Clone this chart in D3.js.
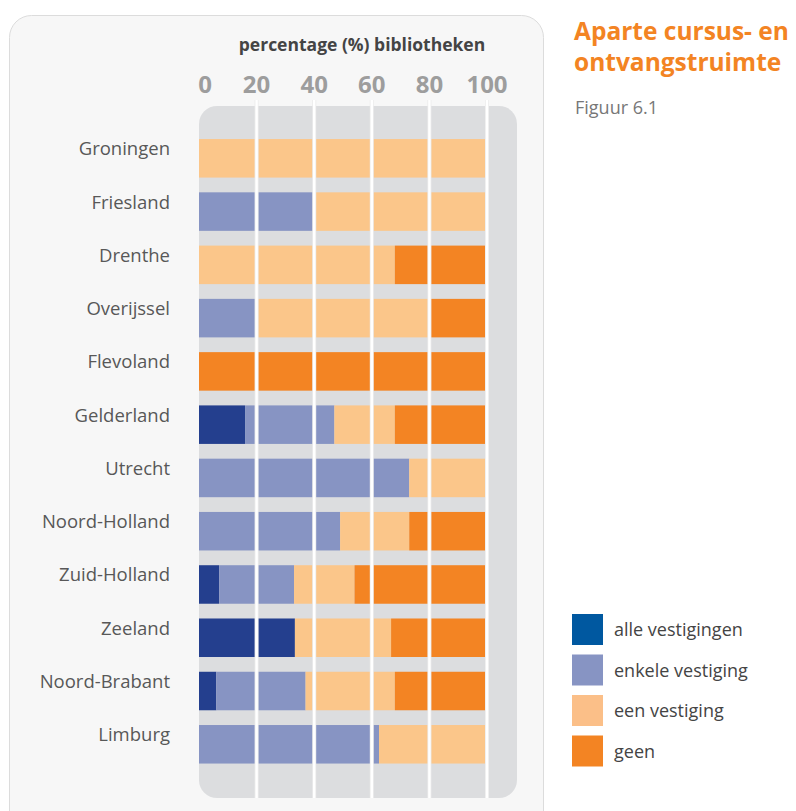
<!DOCTYPE html>
<html>
<head>
<meta charset="utf-8">
<script src="https://cdn.jsdelivr.net/npm/d3@7"></script>
<style>
  body { margin: 0; background: #fff; }
  svg { display: block; }
</style>
</head>
<body>
<div class="chart"></div>
<script>
var provinces = ["Groningen", "Friesland", "Drenthe", "Overijssel", "Flevoland", "Gelderland",
    "Utrecht", "Noord-Holland", "Zuid-Holland", "Zeeland", "Noord-Brabant", "Limburg"];
var series = ["alle vestigingen", "enkele vestiging", "een vestiging", "geen"];
var alleVestigingen = [0, 0, 0, 0, 0, 16, 0, 0, 7, 33.3, 6, 0];
var enkeleVestiging = [0, 40, 0, 20, 0, 31, 73, 49, 26, 0, 31, 62.5];
var eenVestiging = [100, 60, 68, 60, 0, 21, 27, 24, 21, 33.4, 31, 37.5];
var geen = [0, 0, 32, 20, 100, 32, 0, 27, 46, 33.3, 32, 0];
var ticks = [0, 20, 40, 60, 80, 100];

var barColors = ["#243f8e", "#8794c3", "#fbc68a", "#f38423"];
var legendColors = ["#0058a0", "#8794c3", "#fbbf88", "#f38423"];

function buildRows() {
    var rows = [];
    for (var i = 0; i < provinces.length; i++) {
        rows.push({
            name: provinces[i],
            "alle vestigingen": alleVestigingen[i],
            "enkele vestiging": enkeleVestiging[i],
            "een vestiging": eenVestiging[i],
            "geen": geen[i]
        });
    }
    return rows;
}

function draw(width, height) {
    var svg = d3.select(".chart").append("svg")
        .attr("width", width)
        .attr("height", height);

    var font = "'Open Sans', sans-serif";

    // card behind the chart
    svg.append("rect")
        .attr("x", 9.5).attr("y", 15.5)
        .attr("width", 534).attr("height", 830)
        .attr("rx", 22)
        .attr("fill", "#f7f7f7")
        .attr("stroke", "#dcdcdc");

    var x = d3.scaleLinear().domain([0, 100]).range([199, 487]);
    var y = d3.scaleBand().domain(provinces).range([128.4, 774.2]).paddingInner(0.277).paddingOuter(0.2);

    // grey panel
    svg.append("rect")
        .attr("x", 199).attr("y", 106)
        .attr("width", 318).attr("height", 692)
        .attr("rx", 18)
        .attr("fill", "#dcdddf");

    var stack = d3.stack().keys(series)(buildRows());

    svg.append("g")
        .selectAll("g")
        .data(stack)
        .enter()
        .append("g")
        .attr("fill", function(d, i){ return barColors[i]; })
        .selectAll("rect")
        .data(function(d){ return d; })
        .enter()
        .append("rect")
        .attr("x", function(d){ return x(d[0]); })
        .attr("y", function(d){ return y(d.data.name); })
        .attr("width", function(d){ return x(d[1]) - x(d[0]); })
        .attr("height", y.bandwidth());

    // gridlines over the bars
    var grid = svg.append("g");
    grid.selectAll("line.shadow")
        .data(ticks.slice(1))
        .enter().append("line")
        .attr("class", "shadow")
        .attr("x1", function(d){ return x(d); })
        .attr("x2", function(d){ return x(d); })
        .attr("y1", 100).attr("y2", 798)
        .attr("stroke", "#ececec")
        .attr("stroke-width", 4);
    grid.selectAll("line.main")
        .data(ticks.slice(1))
        .enter().append("line")
        .attr("class", "main")
        .attr("x1", function(d){ return x(d); })
        .attr("x2", function(d){ return x(d); })
        .attr("y1", 100).attr("y2", 798)
        .attr("stroke", "#ffffff")
        .attr("stroke-width", 2.4);

    // tick labels
    svg.append("g")
        .selectAll("text")
        .data(ticks)
        .enter().append("text")
        .attr("x", function(d){ return x(d) + (d === 0 ? 6 : 0); })
        .attr("y", 93)
        .attr("text-anchor", "middle")
        .attr("font-family", font)
        .attr("font-weight", "bold")
        .attr("font-size", 24)
        .attr("fill", "#9d9d9d")
        .text(function(d){ return d; });

    svg.append("text")
        .attr("x", 362).attr("y", 51)
        .attr("text-anchor", "middle")
        .attr("font-family", font)
        .attr("font-weight", "bold")
        .attr("font-size", 17.5)
        .attr("fill", "#444")
        .text("percentage (%) bibliotheken");

    // province labels
    svg.append("g")
        .selectAll("text")
        .data(provinces)
        .enter().append("text")
        .attr("x", 170)
        .attr("y", function(d){ return y(d) + y.bandwidth() / 2 - 3; })
        .attr("text-anchor", "end")
        .attr("font-family", font)
        .attr("font-size", 18.5)
        .attr("fill", "#585858")
        .text(function(d){ return d; });

    // title
    svg.append("text")
        .attr("x", 574).attr("y", 40)
        .attr("font-family", font)
        .attr("font-weight", "bold")
        .attr("font-size", 24.5)
        .attr("fill", "#f38423")
        .text("Aparte cursus- en");
    svg.append("text")
        .attr("x", 574).attr("y", 71)
        .attr("font-family", font)
        .attr("font-weight", "bold")
        .attr("font-size", 24.5)
        .attr("fill", "#f38423")
        .text("ontvangstruimte");
    svg.append("text")
        .attr("x", 575).attr("y", 114)
        .attr("font-family", font)
        .attr("font-size", 18)
        .attr("fill", "#777")
        .text("Figuur 6.1");

    // legend
    var legend = svg.append("g")
        .selectAll("g")
        .data(series)
        .enter().append("g")
        .attr("transform", function(d, i){ return "translate(572," + (614 + i * 40.5) + ")"; });
    legend.append("rect")
        .attr("width", 31).attr("height", 31)
        .attr("fill", function(d, i){ return legendColors[i]; });
    legend.append("text")
        .attr("x", 42).attr("y", 22)
        .attr("font-family", font)
        .attr("font-size", 18)
        .attr("fill", "#444")
        .text(function(d){ return d; });
}

draw(796, 811);
</script>
</body>
</html>
